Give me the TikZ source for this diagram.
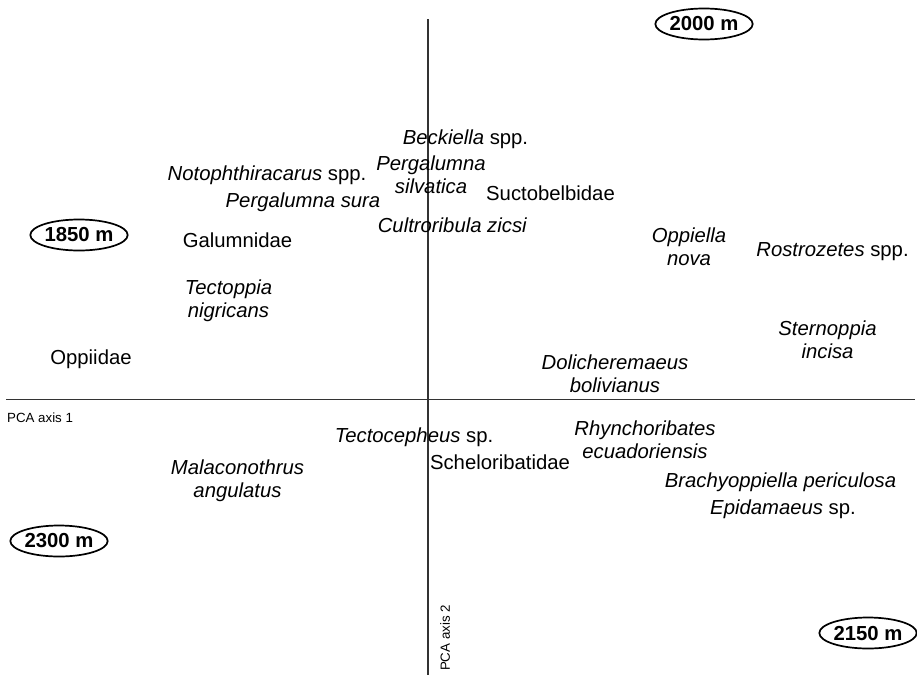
\documentclass[tikz,border=0pt]{standalone}
\usepackage{fontspec}
\setmainfont{Liberation Sans}
\usetikzlibrary{shapes.geometric}
\begin{document}
\begin{tikzpicture}[x=1pt,y=-1pt,
  lbl/.style={font=\fontsize{20.3}{23.5}\selectfont, inner sep=0pt, anchor=base, align=center},
  small/.style={font=\fontsize{13.3}{15}\selectfont, inner sep=0pt},
  alt/.style={draw=black, line width=1.7pt, ellipse, minimum width=90pt, minimum height=31pt, inner sep=0pt,
              font=\fontsize{20.3}{23}\selectfont\bfseries},
  axis/.style={draw=black!80, line width=1.3pt}]
\useasboundingbox (0,0) rectangle (917,675);
% axes
\coordinate (hL) at (6,399.5);
\coordinate (hR) at (915,399.5);
\coordinate (vT) at (428,19);
\coordinate (vB) at (428,675);
\draw[axis] (hL) -- (hR);
\draw[axis] (vT) -- (vB);
\node[small, anchor=base west] (ax1) at (7,422) {PCA axis 1};
\node[small, rotate=90] (ax2) at (445,638) {PCA axis 2};
% altitude ellipses
\node[alt] (e1850) at (79,235) {1850 m};
\node[alt] (e2000) at (704,24) {2000 m};
\node[alt] (e2300) at (59,541) {2300 m};
\node[alt] (e2150) at (868,633) {2150 m};
% taxa (two-line nodes: base = baseline of second line)
\node[lbl] (beck) at (465.5,144) {\textit{Beckiella} spp.};
\node[lbl] (pers) at (431,193.5) {\textit{Pergalumna}\\\textit{silvatica}};
\node[lbl] (noto) at (267,180) {\textit{Notophthiracarus} spp.};
\node[lbl] (pesu) at (303,207) {\textit{Pergalumna sura}};
\node[lbl] (suct) at (550.5,200) {Suctobelbidae};
\node[lbl] (cult) at (452.5,232) {\textit{Cultroribula zicsi}};
\node[lbl] (galu) at (237.5,247) {Galumnidae};
\node[lbl] (oppn) at (689,265.5) {\textit{Oppiella}\\\textit{nova}};
\node[lbl] (rost) at (832.5,256) {\textit{Rostrozetes} spp.};
\node[lbl] (tect) at (228.5,317.5) {\textit{Tectoppia}\\\textit{nigricans}};
\node[lbl] (ster) at (827.5,358.5) {\textit{Sternoppia}\\\textit{incisa}};
\node[lbl] (oppi) at (91,364) {Oppiidae};
\node[lbl] (doli) at (615,392.5) {\textit{Dolicheremaeus}\\\textit{bolivianus}};
\node[lbl] (tcph) at (414,442) {\textit{Tectocepheus} sp.};
\node[lbl] (rhyn) at (645,458.5) {\textit{Rhynchoribates}\\\textit{ecuadoriensis}};
\node[lbl] (sche) at (500,469) {Scheloribatidae};
\node[lbl] (mala) at (237.5,497.5) {\textit{Malaconothrus}\\\textit{angulatus}};
\node[lbl] (brac) at (780.5,487) {\textit{Brachyoppiella periculosa}};
\node[lbl] (epid) at (783,514) {\textit{Epidamaeus} sp.};
\end{tikzpicture}
\end{document}
